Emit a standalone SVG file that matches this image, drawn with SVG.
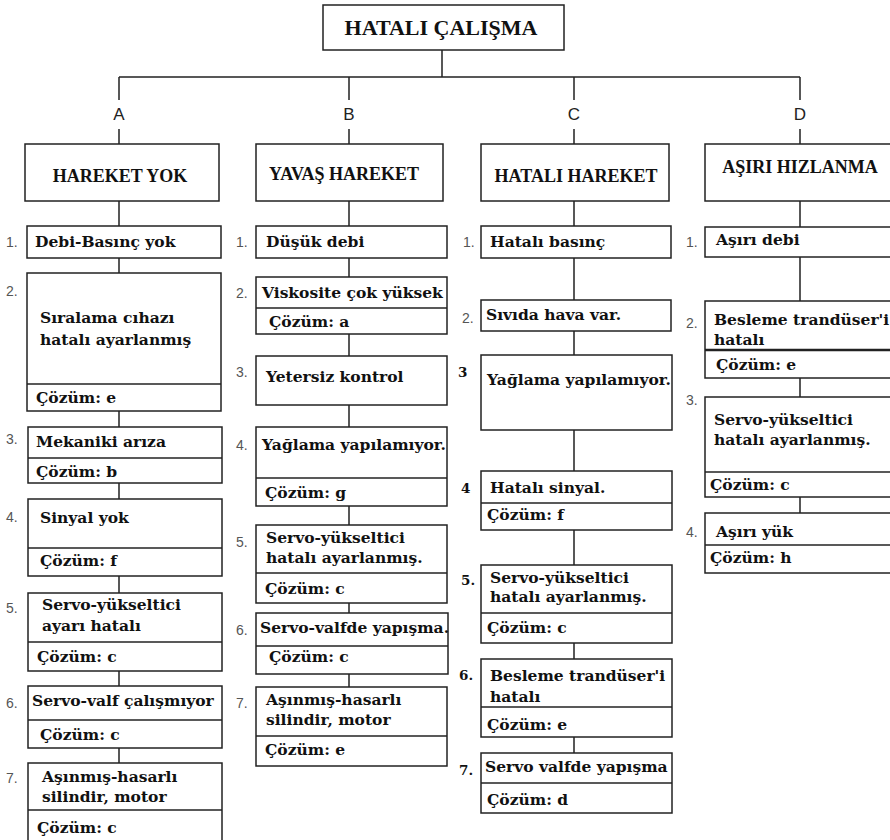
<svg xmlns="http://www.w3.org/2000/svg" width="890" height="840" viewBox="0 0 890 840">
  <style>
    .box { fill: #fff; stroke: #222; stroke-width: 1.5; }
    .sep { stroke: #222; stroke-width: 1.5; }
    .wire { stroke: #222; stroke-width: 1.5; fill: none; }
    .t { font-family: "DejaVu Serif", serif; font-weight: bold; font-size: 15.5px; fill: #111; }
    .h { font-family: "Liberation Serif", serif; font-weight: bold; font-size: 18px; fill: #111; text-anchor: middle; }
    .root { font-family: "Liberation Serif", serif; font-weight: bold; font-size: 22px; fill: #111; text-anchor: middle; }
    .n { font-family: "Liberation Sans", Arial, sans-serif; font-size: 14px; fill: #555; }
    .nb { font-family: "DejaVu Serif", serif; font-weight: bold; font-size: 13.5px; fill: #111; }
    .l { font-family: "Liberation Sans", Arial, sans-serif; font-size: 17px; fill: #222; text-anchor: middle; }
  </style>

  <!-- connectors -->
  <g id="connectors">
    <path class="wire" d="M442,50 V77 M119,77 H800 M119,77 V100 M349,77 V100 M574,77 V100 M800,77 V100 M119,129 V144 M349,129 V144 M574,129 V144 M800,129 V144"/>
    <!-- column A -->
    <path class="wire" d="M119,201 V226 M119,258 V273 M119,411 V427 M119,483 V499 M119,576 V593 M119,671 V686 M119,748 V763"/>
    <!-- column B -->
    <path class="wire" d="M349,201 V226 M349,258 V277 M349,334 V356 M349,405 V427 M349,506 V525 M349,603 V613 M349,674 V687"/>
    <!-- column C -->
    <path class="wire" d="M574,201 V226 M574,258 V300 M574,331 V355 M574,430 V471 M574,530 V565 M574,643 V659 M574,737 V753"/>
    <!-- column D -->
    <path class="wire" d="M800,201 V227 M800,257 V301 M800,378 V397 M800,497 V513"/>
    <text class="l" x="119" y="120">A</text>
    <text class="l" x="349" y="120">B</text>
    <text class="l" x="574" y="120">C</text>
    <text class="l" x="800" y="120">D</text>
  </g>

  <!-- root -->
  <g id="root">
    <rect class="box" x="323" y="5" width="241" height="45"/>
    <text class="root" x="441" y="35">HATALI ÇALIŞMA</text>
  </g>

  <!-- category headers -->
  <g id="A">
    <rect class="box" x="25" y="144" width="194" height="57"/>
    <text class="h" x="120" y="182">HAREKET YOK</text>
  </g>
  <g id="B">
    <rect class="box" x="256" y="144" width="187" height="57"/>
    <text class="h" x="344" y="180">YAVAŞ HAREKET</text>
  </g>
  <g id="C">
    <rect class="box" x="481" y="144" width="188" height="57"/>
    <text class="h" x="576" y="182">HATALI HAREKET</text>
  </g>
  <g id="D">
    <rect class="box" x="705" y="144" width="200" height="57"/>
    <text class="h" x="800" y="173">AŞIRI HIZLANMA</text>
  </g>

  <!-- column A causes -->
  <g id="A1">
    <rect class="box" x="27" y="226" width="194" height="32"/>
    <text class="n" x="6" y="247">1.</text>
    <text class="t" x="35" y="247">Debi-Basınç yok</text>
  </g>
  <g id="A2">
    <rect class="box" x="27" y="273" width="194" height="138"/>
    <line class="sep" x1="27" y1="384" x2="221" y2="384"/>
    <text class="n" x="6" y="296">2.</text>
    <text class="t" x="40" y="323">Sıralama cıhazı</text>
    <text class="t" x="40" y="345">hatalı ayarlanmış</text>
    <text class="t" x="36" y="403">Çözüm: e</text>
  </g>
  <g id="A3">
    <rect class="box" x="28" y="427" width="194" height="56"/>
    <line class="sep" x1="28" y1="458" x2="222" y2="458"/>
    <text class="n" x="6" y="444">3.</text>
    <text class="t" x="36" y="447">Mekaniki arıza</text>
    <text class="t" x="36" y="477">Çözüm: b</text>
  </g>
  <g id="A4">
    <rect class="box" x="28" y="499" width="194" height="77"/>
    <line class="sep" x1="28" y1="548" x2="222" y2="548"/>
    <text class="n" x="6" y="522">4.</text>
    <text class="t" x="40" y="523">Sinyal yok</text>
    <text class="t" x="40" y="566">Çözüm: f</text>
  </g>
  <g id="A5">
    <rect class="box" x="28" y="593" width="194" height="78"/>
    <line class="sep" x1="28" y1="642" x2="222" y2="642"/>
    <text class="n" x="6" y="613">5.</text>
    <text class="t" x="42" y="610">Servo-yükseltici</text>
    <text class="t" x="42" y="631">ayarı hatalı</text>
    <text class="t" x="37" y="662">Çözüm: c</text>
  </g>
  <g id="A6">
    <rect class="box" x="28" y="686" width="194" height="62"/>
    <line class="sep" x1="28" y1="720" x2="222" y2="720"/>
    <text class="n" x="6" y="708">6.</text>
    <text class="t" x="32" y="706">Servo-valf çalışmıyor</text>
    <text class="t" x="40" y="740">Çözüm: c</text>
  </g>
  <g id="A7">
    <rect class="box" x="28" y="763" width="194" height="90"/>
    <line class="sep" x1="28" y1="810" x2="222" y2="810"/>
    <text class="n" x="6" y="783">7.</text>
    <text class="t" x="42" y="782">Aşınmış-hasarlı</text>
    <text class="t" x="42" y="802">silindir, motor</text>
    <text class="t" x="37" y="833">Çözüm: c</text>
  </g>

  <!-- column B causes -->
  <g id="B1">
    <rect class="box" x="256" y="226" width="191" height="32"/>
    <text class="n" x="236" y="247">1.</text>
    <text class="t" x="266" y="247">Düşük debi</text>
  </g>
  <g id="B2">
    <rect class="box" x="256" y="277" width="191" height="57"/>
    <line class="sep" x1="256" y1="308" x2="447" y2="308"/>
    <text class="n" x="236" y="298">2.</text>
    <text class="t" x="262" y="298">Viskosite çok yüksek</text>
    <text class="t" x="269" y="327">Çözüm: a</text>
  </g>
  <g id="B3">
    <rect class="box" x="256" y="356" width="191" height="49"/>
    <text class="n" x="236" y="377">3.</text>
    <text class="t" x="266" y="382">Yetersiz kontrol</text>
  </g>
  <g id="B4">
    <rect class="box" x="256" y="427" width="191" height="79"/>
    <line class="sep" x1="256" y1="478" x2="447" y2="478"/>
    <text class="n" x="236" y="450">4.</text>
    <text class="t" x="262" y="450">Yağlama yapılamıyor.</text>
    <text class="t" x="265" y="498">Çözüm: g</text>
  </g>
  <g id="B5">
    <rect class="box" x="256" y="525" width="191" height="78"/>
    <line class="sep" x1="256" y1="573" x2="447" y2="573"/>
    <text class="n" x="236" y="547">5.</text>
    <text class="t" x="266" y="543">Servo-yükseltici</text>
    <text class="t" x="266" y="563">hatalı ayarlanmış.</text>
    <text class="t" x="265" y="594">Çözüm: c</text>
  </g>
  <g id="B6">
    <rect class="box" x="256" y="613" width="192" height="61"/>
    <line class="sep" x1="256" y1="646" x2="448" y2="646"/>
    <text class="n" x="236" y="635">6.</text>
    <text class="t" x="260" y="633">Servo-valfde yapışma.</text>
    <text class="t" x="269" y="662">Çözüm: c</text>
  </g>
  <g id="B7">
    <rect class="box" x="256" y="687" width="191" height="79"/>
    <line class="sep" x1="256" y1="736" x2="447" y2="736"/>
    <text class="n" x="236" y="708">7.</text>
    <text class="t" x="266" y="705">Aşınmış-hasarlı</text>
    <text class="t" x="266" y="725">silindir, motor</text>
    <text class="t" x="265" y="755">Çözüm: e</text>
  </g>

  <!-- column C causes -->
  <g id="C1">
    <rect class="box" x="481" y="226" width="190" height="32"/>
    <text class="n" x="463" y="247">1.</text>
    <text class="t" x="490" y="247">Hatalı basınç</text>
  </g>
  <g id="C2">
    <rect class="box" x="481" y="300" width="190" height="31"/>
    <text class="n" x="462" y="323">2.</text>
    <text class="t" x="486" y="320">Sıvıda hava var.</text>
  </g>
  <g id="C3">
    <rect class="box" x="481" y="355" width="191" height="75"/>
    <text class="nb" x="458" y="377">3</text>
    <text class="t" x="487" y="385">Yağlama yapılamıyor.</text>
  </g>
  <g id="C4">
    <rect class="box" x="481" y="471" width="191" height="59"/>
    <line class="sep" x1="481" y1="503" x2="672" y2="503"/>
    <text class="nb" x="461" y="493">4</text>
    <text class="t" x="490" y="493">Hatalı sinyal.</text>
    <text class="t" x="487" y="520">Çözüm: f</text>
  </g>
  <g id="C5">
    <rect class="box" x="481" y="565" width="191" height="78"/>
    <line class="sep" x1="481" y1="613" x2="672" y2="613"/>
    <text class="nb" x="461" y="585">5.</text>
    <text class="t" x="490" y="583">Servo-yükseltici</text>
    <text class="t" x="490" y="602">hatalı ayarlanmış.</text>
    <text class="t" x="487" y="633">Çözüm: c</text>
  </g>
  <g id="C6">
    <rect class="box" x="481" y="659" width="191" height="78"/>
    <line class="sep" x1="481" y1="707" x2="672" y2="707"/>
    <text class="nb" x="459" y="680">6.</text>
    <text class="t" x="490" y="681">Besleme trandüser'i</text>
    <text class="t" x="490" y="702">hatalı</text>
    <text class="t" x="487" y="730">Çözüm: e</text>
  </g>
  <g id="C7">
    <rect class="box" x="481" y="753" width="191" height="60"/>
    <line class="sep" x1="481" y1="783" x2="672" y2="783"/>
    <text class="nb" x="459" y="775">7.</text>
    <text class="t" x="485" y="772">Servo valfde yapışma</text>
    <text class="t" x="487" y="805">Çözüm: d</text>
  </g>

  <!-- column D causes -->
  <g id="D1">
    <rect class="box" x="705" y="227" width="200" height="30"/>
    <text class="n" x="686" y="247">1.</text>
    <text class="t" x="716" y="245">Aşırı debi</text>
  </g>
  <g id="D2">
    <rect class="box" x="705" y="301" width="200" height="77"/>
    <line class="sep" x1="705" y1="350" x2="890" y2="350" style="stroke-width:2.5"/>
    <text class="n" x="686" y="328">2.</text>
    <text class="t" x="714" y="325">Besleme trandüser'i</text>
    <text class="t" x="714" y="345">hatalı</text>
    <text class="t" x="716" y="370">Çözüm: e</text>
  </g>
  <g id="D3">
    <rect class="box" x="705" y="397" width="200" height="100"/>
    <line class="sep" x1="705" y1="472" x2="890" y2="472"/>
    <text class="n" x="686" y="405">3.</text>
    <text class="t" x="714" y="425">Servo-yükseltici</text>
    <text class="t" x="714" y="445">hatalı ayarlanmış.</text>
    <text class="t" x="710" y="490">Çözüm: c</text>
  </g>
  <g id="D4">
    <rect class="box" x="705" y="513" width="200" height="60"/>
    <line class="sep" x1="705" y1="545" x2="890" y2="545"/>
    <text class="n" x="686" y="537">4.</text>
    <text class="t" x="716" y="537">Aşırı yük</text>
    <text class="t" x="710" y="563">Çözüm: h</text>
  </g>
</svg>
